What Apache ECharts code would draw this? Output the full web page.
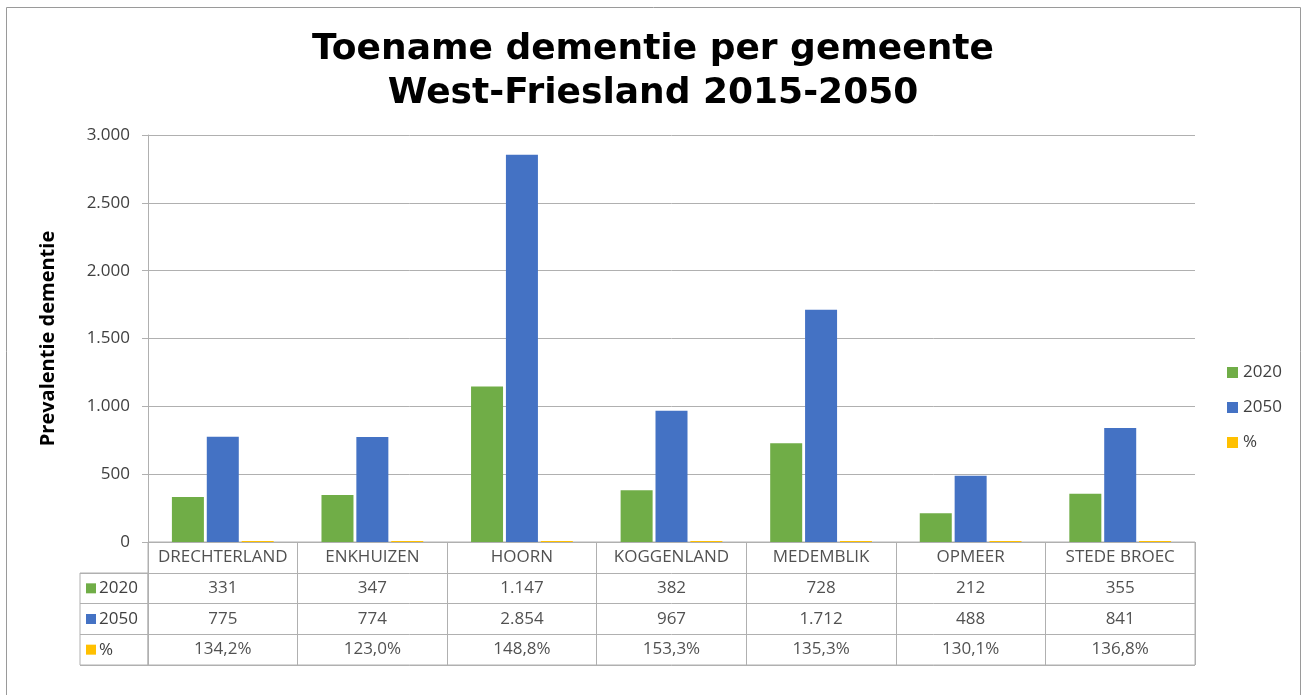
<!DOCTYPE html>
<html>
<head>
<meta charset="utf-8">
<script src="https://cdn.jsdelivr.net/npm/echarts@6/dist/echarts.min.js"></script>
<style>
	html, body { margin: 0; padding: 0; background: #fff; }
	#chart { width: 1306px; height: 695px; }
</style>
</head>
<body>
<div id="chart"></div>
<script>
// gemeenten
var gemeenten = ['DRECHTERLAND', 'ENKHUIZEN', 'HOORN', 'KOGGENLAND', 'MEDEMBLIK', 'OPMEER', 'STEDE BROEC'];
// prevalentie dementie
var prev2020 = [331, 347, 1147, 382, 728, 212, 355];
var prev2050 = [775, 774, 2854, 967, 1712, 488, 841];
// toename als fractie (1,342 = 134,2%)
var toename = [1.342, 1.230, 1.488, 1.533, 1.353, 1.301, 1.368];
var reeksNamen = ['2020', '2050', '%'];
var yTicks = [0, 500, 1000, 1500, 2000, 2500, 3000];

var kleuren = ['#70ad47', '#4472c4', '#ffc000'];
var lijnKleur = '#b0b0b0';
var font = '"Open Sans", "Noto Sans", sans-serif';

function nlGetal(v) {
	var s = String(Math.round(v));
	return s.replace(/\B(?=(\d{3})+(?!\d))/g, '.');
}
function nlPct(v) {
	return (v * 100).toFixed(1).replace('.', ',') + '%';
}

// cellen van de datatabel
var tabelCellen = [];
for (var i = 0; i < gemeenten.length; i++) {
	tabelCellen.push([i, 0, gemeenten[i]]);
	tabelCellen.push([i, 1, nlGetal(prev2020[i])]);
	tabelCellen.push([i, 2, nlGetal(prev2050[i])]);
	tabelCellen.push([i, 3, nlPct(toename[i])]);
}

var chart = echarts.init(document.getElementById('chart'));

var option = {
	backgroundColor: '#fff',
	animation: false,
	title: {
		text: 'Toename dementie per gemeente\nWest-Friesland 2015-2050',
		left: 'center',
		top: 23,
		textStyle: {
			fontFamily: '"DejaVu Sans", Verdana, sans-serif',
			fontWeight: 'bold',
			fontSize: 36,
			lineHeight: 44,
			color: '#000'
		}
	},
	legend: {
		data: reeksNamen,
		orient: 'vertical',
		left: 1222,
		top: 359,
		itemWidth: 11,
		itemHeight: 11,
		itemGap: 18,
		icon: 'rect',
		textStyle: { fontFamily: font, fontSize: 17, color: '#404040' }
	},
	graphic: [{
		type: 'rect',
		shape: { x: 6.5, y: 7.5, width: 1294, height: 720 },
		style: { fill: 'none', stroke: '#9a9a9a', lineWidth: 1 },
		silent: true
	}],
	grid: [
		{ left: 148, right: 111, top: 135, height: 407 },
		{ left: 148, right: 111, top: 542, height: 123, show: true, borderColor: lijnKleur, borderWidth: 1 },
		{ left: 80, width: 68, top: 573, height: 92, show: true, borderColor: lijnKleur, borderWidth: 1 }
	],
	xAxis: [
		{
			gridIndex: 0,
			type: 'category',
			data: gemeenten,
			axisLine: { lineStyle: { color: lijnKleur } },
			axisTick: { show: false },
			axisLabel: { show: false }
		},
		{
			gridIndex: 1,
			type: 'category',
			data: gemeenten,
			axisLine: { show: false },
			axisTick: { show: false },
			axisLabel: { show: false },
			splitLine: { show: true, lineStyle: { color: lijnKleur } }
		},
		{
			gridIndex: 2,
			type: 'value',
			show: false
		}
	],
	yAxis: [
		{
			gridIndex: 0,
			type: 'value',
			min: 0,
			max: 3000,
			interval: 500,
			name: 'Prevalentie dementie',
			nameLocation: 'middle',
			nameRotate: 90,
			nameGap: 90,
			nameTextStyle: { fontFamily: font, fontWeight: 'bold', fontSize: 20, color: '#000' },
			axisLine: { show: true, lineStyle: { color: lijnKleur } },
			axisTick: { show: true, length: 6, lineStyle: { color: lijnKleur } },
			axisLabel: {
				margin: 18,
				fontFamily: font,
				fontSize: 17,
				color: '#404040',
				formatter: function (v) {
					return yTicks.indexOf(v) >= 0 ? nlGetal(v) : '';
				}
			},
			splitLine: { lineStyle: { color: lijnKleur } }
		},
		{
			gridIndex: 1,
			type: 'category',
			inverse: true,
			data: ['naam'].concat(reeksNamen),
			axisLine: { show: false },
			axisTick: { show: false },
			axisLabel: { show: false },
			splitLine: { show: true, lineStyle: { color: lijnKleur } }
		},
		{
			gridIndex: 2,
			type: 'category',
			inverse: true,
			data: reeksNamen,
			axisLine: { show: false },
			axisTick: { show: false },
			splitLine: { show: true, lineStyle: { color: lijnKleur } },
			axisLabel: {
				inside: true,
				margin: 6,
				fontFamily: font,
				fontSize: 17,
				color: '#404040',
				formatter: function (v, idx) {
					return '{s' + idx + '|}{t|' + v + '}';
				},
				rich: {
					s0: { width: 10, height: 10, backgroundColor: kleuren[0] },
					s1: { width: 10, height: 10, backgroundColor: kleuren[1] },
					s2: { width: 10, height: 10, backgroundColor: kleuren[2] },
					t: { fontFamily: font, fontSize: 17, color: '#404040', padding: [0, 0, 0, 3] }
				}
			}
		}
	],
	series: [
		{
			name: reeksNamen[0],
			type: 'bar',
			data: prev2020,
			barWidth: 32,
			barGap: '9%',
			itemStyle: { color: kleuren[0] }
		},
		{
			name: reeksNamen[1],
			type: 'bar',
			data: prev2050,
			barWidth: 32,
			barGap: '9%',
			itemStyle: { color: kleuren[1] }
		},
		{
			name: reeksNamen[2],
			type: 'bar',
			data: toename,
			barWidth: 32,
			barGap: '9%',
			barMinHeight: 1,
			itemStyle: { color: kleuren[2] }
		},
		{
			name: 'tabel',
			type: 'scatter',
			xAxisIndex: 1,
			yAxisIndex: 1,
			data: tabelCellen,
			symbolSize: 1,
			silent: true,
			itemStyle: { color: 'rgba(0,0,0,0)' },
			label: {
				show: true,
				position: 'inside',
				fontFamily: font,
				fontSize: 17,
				color: '#262626',
				formatter: function (p) { return p.value[2]; }
			}
		}
	]
};

chart.setOption(option);
window.onresize = chart.resize;
</script>
</body>
</html>
